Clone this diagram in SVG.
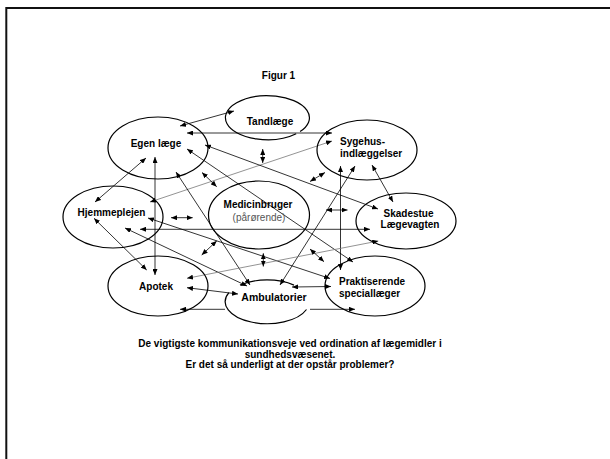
<svg xmlns="http://www.w3.org/2000/svg" width="610" height="459" viewBox="0 0 610 459">
<style>
.n{fill:none;stroke:#000;stroke-width:1.2}
.t{font-family:"Liberation Sans",Arial,sans-serif;font-size:10px;font-weight:bold;fill:#000}
.s{font-family:"Liberation Sans",Arial,sans-serif;font-size:10px;fill:#555}
.c line{stroke:#000;stroke-width:0.8;marker-start:url(#a);marker-end:url(#a)}
.c line.g{stroke:#777}
.c line.one{marker-start:none}
</style>
<defs>
<marker id="a" markerUnits="userSpaceOnUse" markerWidth="6" markerHeight="5" refX="6" refY="2.5" orient="auto-start-reverse">
<path d="M0,0 L6,2.5 L0,5 z" fill="#000"/>
</marker>
</defs>
<rect width="610" height="459" fill="#fff"/>
<path d="M6.3,459 V8 H610" fill="none" stroke="#111" stroke-width="2"/>
<text class="t" x="278.5" y="78.5" text-anchor="middle">Figur 1</text>
<g class="c" id="connectors">
<line x1="180" y1="126" x2="234" y2="111"/>
<line x1="187" y1="133" x2="332" y2="133"/>
<line x1="262.7" y1="149" x2="262.7" y2="163"/>
<line x1="155" y1="157" x2="155" y2="275"/>
<line x1="146" y1="158" x2="95" y2="202"/>
<line class="g" x1="150" y1="202" x2="332" y2="141"/>
<line x1="205" y1="145" x2="378" y2="209"/>
<line x1="187" y1="149" x2="353" y2="262"/>
<line x1="176" y1="172" x2="250" y2="285"/>
<line x1="202" y1="172.5" x2="216.7" y2="186.7"/>
<line x1="310" y1="181.5" x2="325" y2="172.5"/>
<line x1="372" y1="165" x2="393" y2="202"/>
<line x1="340.5" y1="166" x2="340.5" y2="270"/>
<line x1="355" y1="166" x2="280" y2="285"/>
<line x1="326" y1="210" x2="347.5" y2="210"/>
<line x1="140" y1="229.3" x2="370" y2="229.3"/>
<line x1="171" y1="217.7" x2="192.7" y2="217.7"/>
<line x1="148" y1="218" x2="330" y2="278.5"/>
<line x1="125" y1="228" x2="247" y2="286"/>
<line x1="187" y1="287.7" x2="238" y2="294"/>
<line x1="94" y1="218.3" x2="146.7" y2="270"/>
<line class="g" x1="187" y1="278.3" x2="378.3" y2="241"/>
<line class="one" x1="225" y1="309.3" x2="180" y2="309.3"/>
<line class="one" x1="310" y1="309.3" x2="355" y2="309.3"/>
<line x1="292" y1="287" x2="331" y2="286.5"/>
<line x1="263.3" y1="253.3" x2="263.3" y2="266.5"/>
<line x1="201.7" y1="255" x2="216.7" y2="241"/>
<line x1="310" y1="249" x2="324" y2="261.7"/>
</g>
<g id="tandlaege">
<path class="n" d="M296.2,133.8 A42 22 0 1 1 300.1,131.6"/>
<text class="t" x="270" y="124.5" text-anchor="middle">Tandlæge</text>
</g>
<g id="egen-laege">
<ellipse class="n" cx="158" cy="148" rx="50" ry="31"/>
<text class="t" x="156" y="147" text-anchor="middle">Egen læge</text>
</g>
<g id="sygehus">
<ellipse class="n" cx="367" cy="150" rx="50" ry="30"/>
<text class="t" x="340" y="145"><tspan x="340">Sygehus-</tspan><tspan x="340" dy="12">indlæggelser</tspan></text>
</g>
<g id="hjemmeplejen">
<ellipse class="n" cx="113" cy="217" rx="50" ry="31"/>
<text class="t" x="111.5" y="216" text-anchor="middle">Hjemmeplejen</text>
</g>
<g id="medicinbruger">
<ellipse class="n" cx="259" cy="215" rx="50.5" ry="34"/>
<text class="t" x="258" y="207.5" text-anchor="middle">Medicinbruger</text>
<text class="s" x="259" y="221" text-anchor="middle">(pårørende)</text>
</g>
<g id="skadestue">
<ellipse class="n" cx="406" cy="221" rx="50" ry="28"/>
<text class="t" text-anchor="middle"><tspan x="408.5" y="216.5">Skadestue</tspan><tspan x="410" y="228.3">Lægevagten</tspan></text>
</g>
<g id="apotek">
<ellipse class="n" cx="158" cy="286" rx="50" ry="30"/>
<text class="t" x="156" y="289.5" text-anchor="middle">Apotek</text>
</g>
<g id="praktiserende">
<ellipse class="n" cx="375" cy="286" rx="50" ry="30"/>
<text class="t"><tspan x="339" y="284.5">Praktiserende</tspan><tspan x="339" y="296.8">speciallæger</tspan></text>
</g>
<g id="ambulatorier">
<path class="n" d="M240,285.1 A42 22 0 0 1 294,285.1 M306.5,309.5 A42 22 0 1 1 228.9,292.7"/>
<text class="t" x="274" y="300.5" text-anchor="middle" style="font-size:10.5px">Ambulatorier</text>
</g>
<g id="caption">
<text class="t" text-anchor="middle"><tspan x="290" y="347">De vigtigste kommunikationsveje ved ordination af lægemidler i</tspan><tspan x="290" y="357.5">sundhedsvæsenet.</tspan><tspan x="290" y="368">Er det så underligt at der opstår problemer?</tspan></text>
</g>
</svg>
